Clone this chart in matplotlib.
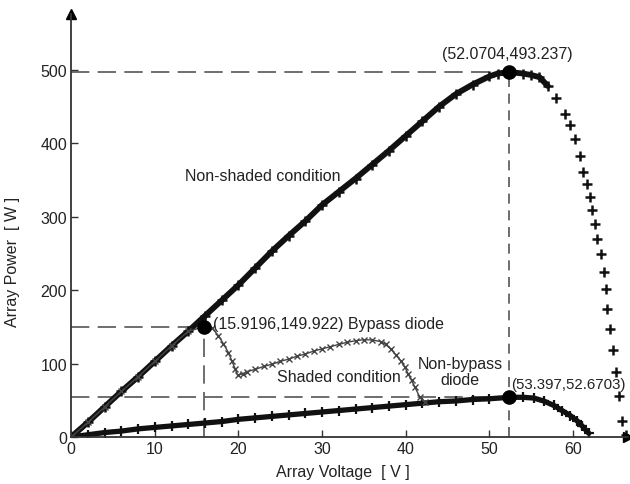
import matplotlib
matplotlib.use("Agg")
import matplotlib.pyplot as plt

plt.rcParams['font.family'] = ['Liberation Sans', 'DejaVu Sans']

# Non-shaded condition (upper curve)
ns_v = [0, 2, 4, 6, 8, 10, 12, 14, 16, 18, 20, 22, 24, 26, 28, 30, 32, 34, 36, 38,
        40, 42, 44, 46, 48, 50, 51, 52.4, 54, 55, 56, 57, 58, 59, 59.6, 60.3, 60.9,
        61.2, 61.7, 62.1, 62.3, 62.7, 62.9, 63.3, 63.7, 63.9, 64.1, 64.4, 64.8,
        65.1, 65.5, 65.9, 66.3]
ns_p = [0, 20, 41, 62, 82, 103, 124, 144, 165, 186, 207, 230, 253, 274, 294, 316,
        334, 352, 371, 390, 410, 430, 450, 467, 480, 491, 495, 497, 495, 493, 490,
        478, 462, 440, 425, 406, 383, 361, 345, 327, 309, 290, 270, 249, 224, 201,
        174, 147, 118, 88, 56, 22, 3]

# Shaded condition, non-bypass diode (lower curve)
nb_v = [0, 2, 4, 6, 8, 10, 12, 14, 16, 18, 20, 22, 24, 26, 28, 30, 32, 34, 36, 38,
        40, 42, 44, 46, 48, 50, 52.4, 54, 55.3, 56.5, 57.7, 58.7, 59.7, 60.5, 61.1,
        61.9]
nb_p = [0, 3, 6, 8, 11, 13, 15, 17, 19, 21, 24, 26, 28, 30, 32, 34, 36, 38, 40, 42,
        44, 46, 48, 49, 51, 52, 54, 54, 53, 49, 43, 36, 29, 22, 15, 5]

# Shaded condition, bypass diode
bp_v = [0, 2, 4, 6, 8, 10, 12, 14, 15.9, 16.8, 17.6, 18.2, 18.8, 19.2, 19.6, 19.9,
        20.5, 21, 22, 23, 24, 25, 26, 27, 28, 29, 30, 31, 32, 33, 34, 35, 36, 37,
        37.6, 38.2, 38.8, 39.4, 39.9, 40.3, 40.7, 41.1, 41.7, 42.3]
bp_p = [0, 20, 41, 62, 82, 103, 124, 144, 150, 149, 138, 127, 115, 104, 93, 84,
        86, 89, 92, 96, 99, 103, 106, 110, 113, 117, 120, 123, 126, 129, 131, 132.5,
        132, 130, 126, 120, 112, 104, 95, 86, 77, 68, 54, 47]

# maximum power points
mpp_v = [15.9, 52.4, 52.4]
mpp_p = [150, 497, 54]
mpp_txt = ['(15.9196,149.922) Bypass diode', '(52.0704,493.237)', '(53.397,52.6703)']

fig = plt.figure(figsize=(6.3, 4.85), dpi=100)
ax = fig.add_axes([0.113, 0.097, 0.884, 0.872])

# dashed guide lines
gc = '#555555'
ax.plot([0, mpp_v[1]], [mpp_p[1], mpp_p[1]], color=gc, lw=1.2, dashes=(11, 5))
ax.plot([0, mpp_v[0]], [mpp_p[0], mpp_p[0]], color=gc, lw=1.2, dashes=(11, 5))
ax.plot([0, mpp_v[2]], [mpp_p[2], mpp_p[2]], color=gc, lw=1.2, dashes=(11, 5))
ax.plot([mpp_v[0], mpp_v[0]], [0, mpp_p[0]], color=gc, lw=1.2, dashes=(11, 5))
ax.plot([mpp_v[1], mpp_v[1]], [0, mpp_p[1]], color=gc, lw=1.2, dashes=(6, 4))

# curves
n_dense = 32
ax.plot(ns_v[:n_dense], ns_p[:n_dense], color='#111111', lw=4.2, solid_capstyle='round')
ax.plot(ns_v, ns_p, ls='none', marker='+', ms=7, mew=1.8, color='#111111')
ax.plot(nb_v, nb_p, color='#111111', lw=3.8, solid_capstyle='round')
ax.plot(nb_v, nb_p, ls='none', marker='+', ms=7, mew=1.6, color='#111111')
ax.plot(bp_v, bp_p, color='#444444', lw=1.0, marker='x', ms=4.5, mew=1.0)

ax.plot(mpp_v, mpp_p, 'o', color='black', ms=9.5, zorder=5)

# annotations
fs = 11.5
tc = '#222222'
ax.text(17.0, 155, mpp_txt[0], fontsize=fs, color=tc, va='center', ha='left')
ax.text(52.2, 522, mpp_txt[1], fontsize=fs, color=tc, va='center', ha='center')
ax.text(52.6, 72, mpp_txt[2], fontsize=10.8, color=tc, va='center', ha='left')
ax.text(13.6, 356, 'Non-shaded condition', fontsize=fs, color=tc, va='center', ha='left')
ax.text(24.6, 82, 'Shaded condition', fontsize=fs, color=tc, va='center', ha='left')
ax.text(46.5, 89, 'Non-bypass\ndiode', fontsize=fs, color=tc, va='center', ha='center',
        multialignment='center', linespacing=1.1)

# axes with arrows
ax.set_xlim(0, 66.6)
ax.set_ylim(0, 576)
ax.spines['top'].set_visible(False)
ax.spines['right'].set_visible(False)
for s in ['left', 'bottom']:
    ax.spines[s].set_color('#333333')
    ax.spines[s].set_linewidth(1.3)
ax.plot(1, 0, '>', color='black', ms=7, transform=ax.transAxes, clip_on=False)
ax.plot(0, 1, '^', color='black', ms=7, transform=ax.transAxes, clip_on=False)

ax.set_xticks([0, 10, 20, 30, 40, 50, 60])
ax.set_yticks([0, 100, 200, 300, 400, 500])
ax.tick_params(direction='in', length=5, width=1.0, colors='#333333', labelsize=fs,
               labelcolor=tc, pad=3)

ax.set_xlabel('Array Voltage  [ V ]', fontsize=fs, color=tc)
ax.set_ylabel('Array Power  [ W ]', fontsize=fs, color=tc)
ax.xaxis.set_label_coords(0.488, -0.064)
ax.yaxis.set_label_coords(-0.092, 0.416)

fig.savefig('out.png', dpi=100)
